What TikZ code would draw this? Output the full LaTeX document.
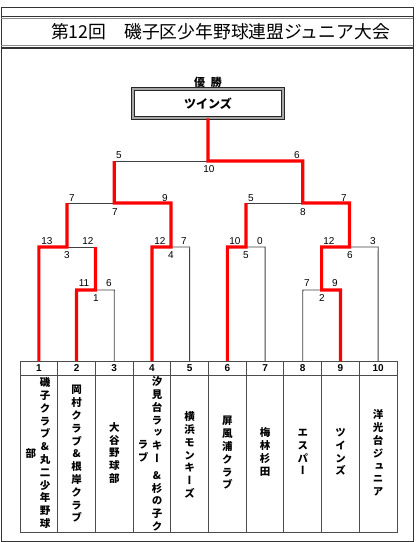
\documentclass[tikz,border=0pt]{standalone}
\usepackage{fontspec}
\setmainfont{Liberation Sans}
\newfontfamily\jp{Noto Sans CJK JP}
\newfontfamily\jpv[RawFeature=+vert]{Noto Sans CJK JP}
\begin{document}
\begin{tikzpicture}[x=1pt,y=-1pt,
  win/.style={draw=red,line width=3.2pt},
  lose/.style={draw=black!75,line width=0.9pt},
  tbl/.style={draw=black!70,line width=0.9pt},
  score/.style={font=\fontsize{10}{10}\selectfont,inner sep=0pt},
  numlab/.style={font=\bfseries\fontsize{10}{10}\selectfont,inner sep=0pt},
  teamtxt/.style={font=\jpv\bfseries\fontsize{10.5}{12.8}\selectfont,align=center,inner sep=0pt}]
\path[use as bounding box] (0,0) rectangle (416,542);
% frame
\draw[line width=1pt,black!80] (1,7) rectangle (413,541);
\draw[line width=1.2pt,black!80] (1,16.5) -- (413,16.5);
\draw[line width=1pt,black!45] (1,18.6) -- (413,18.6);
\draw[line width=1pt,black!45] (1,45.6) -- (413,45.6);
\draw[line width=1.2pt,black!80] (1,48) -- (413,48);
\node[font=\jp\fontsize{17.8}{18}\selectfont,inner sep=0pt] (title) at (220.5,32) {第12回　磯子区少年野球連盟ジュニア大会};
% champion
\node[font=\jp\bfseries\fontsize{11}{11}\selectfont,inner sep=0pt] (champlabel) at (208,82) {優\hspace{6pt}勝};
\node[draw=black!85,line width=0.8pt,double=black!35,double distance=1.6pt,minimum width=150pt,minimum height=29pt,inner sep=0pt,font=\jp\bfseries\fontsize{12}{12}\selectfont] (champ) at (208,103.5) {ツインズ};
% table
\draw[tbl] (20,361) rectangle (397,532);
\draw[tbl] (20,375) -- (397,375);
\foreach \k in {1,...,9} \draw[tbl] (20+37.7*\k,361) -- (20+37.7*\k,532);
% column coordinates
\foreach \i in {1,...,10} {
  \coordinate (b\i) at (20+37.7*\i-18.85,361);
  \node[numlab] (n\i) at (20+37.7*\i-18.85,368) {\i};
}
% bracket coordinates
\coordinate (p1a) at (38.9,247);  \coordinate (p2a) at (76.6,290);
\coordinate (p3a) at (114.3,290); \coordinate (m23) at (95.5,290);
\coordinate (m23u) at (95.5,247); \coordinate (m123) at (67,247);
\coordinate (m123u) at (67,203);
\coordinate (p4a) at (152,247); \coordinate (p5a) at (189.7,247);
\coordinate (m45) at (171,247); \coordinate (m45u) at (171,203);
\coordinate (mL) at (114.3,203); \coordinate (mLu) at (114.3,161);
\coordinate (p6a) at (227.4,247); \coordinate (p7a) at (265.1,247);
\coordinate (m67) at (246,247); \coordinate (m67u) at (246,203);
\coordinate (p8a) at (302.8,290); \coordinate (p9a) at (340.5,290);
\coordinate (m89) at (321.6,290); \coordinate (m89u) at (321.6,247);
\coordinate (p10a) at (378.2,247); \coordinate (m810) at (349.5,247);
\coordinate (m810u) at (349.5,203);
\coordinate (mR) at (302.8,203); \coordinate (mRu) at (302.8,161);
\coordinate (top) at (208,161);
% losing lines
\draw[lose] (m23) -- (p3a) -- (b3);
\draw[lose] (m123) -- (m23u);
\draw[lose] (m45) -- (p5a) -- (b5);
\draw[lose] (m123u) -- (mL);
\draw[lose] (mLu) -- (top);
\draw[lose] (m67) -- (p7a) -- (b7);
\draw[lose] (b8) -- (p8a) -- (m89);
\draw[lose] (m810) -- (p10a) -- (b10);
\draw[lose] (m67u) -- (mR);
% winning lines
\draw[win] (b1) -- (p1a) -- (m123) -- (m123u);
\draw[win] (b2) -- (p2a) -- (m23) -- (m23u);
\draw[win] (b4) -- (p4a) -- (m45) -- (m45u) -- (mL) -- (mLu);
\draw[win] (b6) -- (p6a) -- (m67) -- (m67u);
\draw[win] (b9) -- (p9a) -- (m89) -- (m89u) -- (m810) -- (m810u) -- (mR) -- (mRu) -- (top) -- (champ.south);
% scores
\node[score] (s1) at (119,155) {5};
\node[score] (s2) at (297,155) {6};
\node[score] (s3) at (209,169) {10};
\node[score] (s4) at (72,198) {7};
\node[score] (s5) at (165,198) {9};
\node[score] (s6) at (115,212) {7};
\node[score] (s7) at (251,198) {5};
\node[score] (s8) at (344,198) {7};
\node[score] (s9) at (303,212) {8};
\node[score] (s10) at (47,241) {13};
\node[score] (s11) at (88,241) {12};
\node[score] (s12) at (67,255) {3};
\node[score] (s13) at (160,241) {12};
\node[score] (s14) at (184,241) {7};
\node[score] (s15) at (171,255) {4};
\node[score] (s16) at (235,241) {10};
\node[score] (s17) at (260,241) {0};
\node[score] (s18) at (246,255) {5};
\node[score] (s19) at (329,241) {12};
\node[score] (s20) at (373,241) {3};
\node[score] (s21) at (350,255) {6};
\node[score] (s22) at (84,283) {11};
\node[score] (s23) at (109,283) {6};
\node[score] (s24) at (96,298) {1};
\node[score] (s25) at (307,283) {7};
\node[score] (s26) at (335,283) {9};
\node[score] (s27) at (322,298) {2};
% team names
\node[teamtxt] (t1a) at (45,453) {磯\\子\\ク\\ラ\\ブ\\\&\\丸\\二\\少\\年\\野\\球};
\node[teamtxt] (t1b) at (31,454) {部};
\node[teamtxt] (t2) at (76.6,454) {岡\\村\\ク\\ラ\\ブ\\\&\\根\\岸\\ク\\ラ\\ブ};
\node[teamtxt] (t3) at (114.3,453) {大\\谷\\野\\球\\部};
\node[teamtxt] (t4a) at (157,454) {汐\\見\\台\\ラ\\ッ\\キ\\ー\\[4pt]\&\\杉\\の\\子\\ク};
\node[teamtxt] (t4b) at (143,451) {ラ\\ブ};
\node[teamtxt] (t5) at (189.7,455) {横\\浜\\モ\\ン\\キ\\ー\\ズ};
\node[teamtxt] (t6) at (227.4,453) {屏\\風\\浦\\ク\\ラ\\ブ};
\node[teamtxt] (t7) at (265.1,452) {梅\\林\\杉\\田};
\node[teamtxt] (t8) at (302.8,452) {エ\\ス\\パ\\ー};
\node[teamtxt] (t9) at (340.5,452) {ツ\\イ\\ン\\ズ};
\node[teamtxt] (t10) at (378.2,453) {洋\\光\\台\\ジ\\ュ\\ニ\\ア};
\end{tikzpicture}
\end{document}
